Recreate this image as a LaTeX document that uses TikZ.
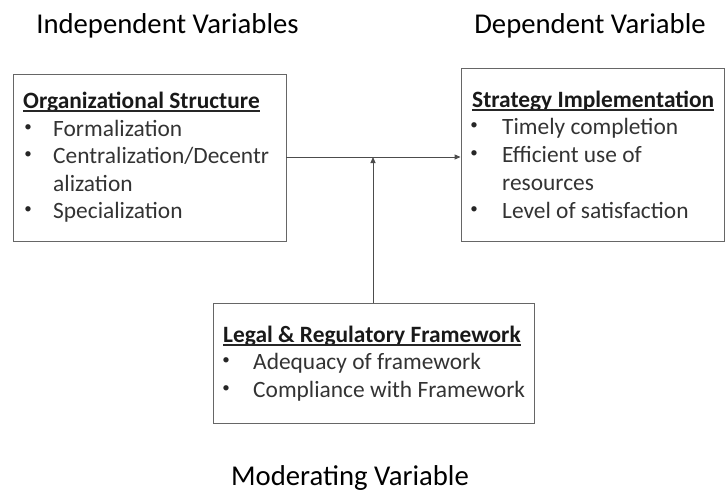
\documentclass[tikz,border=0pt]{standalone}
\usepackage{fontspec}
\setmainfont{Carlito}
\usetikzlibrary{arrows.meta}
\begin{document}
\begin{tikzpicture}[x=1pt,y=-1pt,
  box/.style={draw=black!60, line width=0.9pt, inner sep=0pt},
  head/.style={font=\fontsize{28.7}{34}\selectfont, inner sep=0pt, anchor=base},
  ttl/.style={font=\fontsize{23.4}{28}\selectfont\bfseries, text=black!90, inner sep=0pt, anchor=base west},
  itm/.style={font=\fontsize{23.4}{28}\selectfont, text=black!80, inner sep=0pt, anchor=base west},
  bul/.style={font=\fontsize{15}{18}\selectfont, text=black!85, inner sep=0pt, anchor=center},
  ul/.style={draw=black!85, line width=1.2pt},
  conn/.style={draw=black!70, line width=0.9pt},
  tip/.style={-{Triangle[length=6pt,width=5pt]}}]
\useasboundingbox (0,0) rectangle (726,491);

% headings
\node[head] (hind) at (167.5,33) {Independent Variables};
\node[head] (hdep) at (590,33) {Dependent Variable};
\node[head] (hmod) at (350,485) {Moderating Variable};

% boxes
\node[box, minimum width=273pt, minimum height=167pt] (lb) at (149.5,157.5) {};
\node[box, minimum width=263pt, minimum height=173pt] (rb) at (592.5,154.5) {};
\node[box, minimum width=321pt, minimum height=120pt] (bb) at (373.5,363) {};

% left box text
\node[ttl] (lt) at (23,108) {Organizational Structure};
\draw[ul] ([yshift=-3pt]lt.base west) -- ([yshift=-3pt]lt.base east);
\node[bul] (lb1) at (28,128) {•};
\node[itm] (li1) at (53,136) {Formalization};
\node[bul] (lb2) at (28,155) {•};
\node[itm] (li2) at (53,163) {Centralization/Decentr};
\node[itm] (li2b) at (53,191) {alization};
\node[bul] (lb3) at (28,210) {•};
\node[itm] (li3) at (53,218) {Specialization};

% right box text
\node[ttl] (rt) at (472,107) {Strategy Implementation};
\draw[ul] ([yshift=-3pt]rt.base west) -- ([yshift=-3pt]rt.base east);
\node[bul] (rb1) at (474,126) {•};
\node[itm] (ri1) at (502,134) {Timely completion};
\node[bul] (rb2) at (474,154) {•};
\node[itm] (ri2) at (502,162) {Efficient use of};
\node[itm] (ri2b) at (502,190) {resources};
\node[bul] (rb3) at (474,210) {•};
\node[itm] (ri3) at (502,218) {Level of satisfaction};

% bottom box text
\node[ttl] (bt) at (223,342) {Legal \& Regulatory Framework};
\draw[ul] ([yshift=-3pt]bt.base west) -- ([yshift=-3pt]bt.base east);
\node[bul] (bb1) at (226,361) {•};
\node[itm] (bi1) at (253,369) {Adequacy of framework};
\node[bul] (bb2) at (226,389) {•};
\node[itm] (bi2) at (253,397) {Compliance with Framework};

% connectors
\coordinate (mid) at (373,157);
\draw[conn, tip] (lb.east |- mid) -- (rb.west |- mid);
\draw[conn, tip] (bb.north -| mid) -- (mid);
\end{tikzpicture}
\end{document}
